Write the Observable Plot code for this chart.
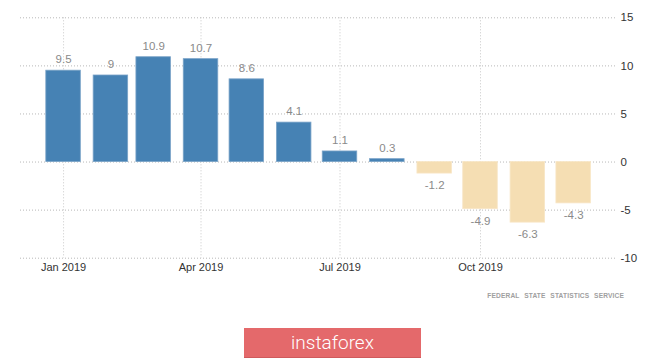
<!DOCTYPE html>
<html>
<head>
<meta charset="utf-8">
<script src="https://cdn.jsdelivr.net/npm/d3@7"></script>
<script src="https://cdn.jsdelivr.net/npm/@observablehq/plot@0.6"></script>
<style>
  html, body { margin: 0; padding: 0; background: #fff; }
  #wrap { position: relative; width: 665px; height: 359px; overflow: hidden; }
  #caption { position: absolute; right: 41px; top: 292px; font-family: 'Liberation Sans', Arial, sans-serif; font-weight: bold; font-size: 6.6px; letter-spacing: 0.15px; word-spacing: 2.8px; color: #a0a0a0; white-space: nowrap; }
  #logo { position: absolute; left: 244px; top: 328px; width: 177px; height: 30px; background: #e4696b; border-bottom: 1px solid #cf5a5c; box-sizing: border-box; color: #fff; font-family: Roboto, 'Open Sans', sans-serif; font-weight: 300; font-size: 19px; line-height: 29px; text-align: center; }
</style>
</head>
<body>
<div id="wrap">
  <div id="chart"></div>
  <div id="caption">FEDERAL STATE STATISTICS SERVICE</div>
  <div id="logo">instaforex</div>
</div>
<script>
const months = ["2019-01-01","2019-02-01","2019-03-01","2019-04-01","2019-05-01","2019-06-01","2019-07-01","2019-08-01","2019-09-01","2019-10-01","2019-11-01","2019-12-01"];
const values = [9.5, 9, 10.9, 10.7, 8.6, 4.1, 1.1, 0.3, -1.2, -4.9, -6.3, -4.3];
const labels = ["9.5","9","10.9","10.7","8.6","4.1","1.1","0.3","-1.2","-4.9","-6.3","-4.3"];
const yTicks = [15, 10, 5, 0, -5, -10];
const xTicks = ["2019-01-01","2019-04-01","2019-07-01","2019-10-01"];
const xDomain = ["2018-12-03T19:12Z", "2019-12-29T16:48Z"];

const data = months.map((m, i) => ({date: new Date(m), value: values[i], label: labels[i]}));
const halfBar = 11.3 * 24 * 3600 * 1000;

const font = "'Liberation Sans', Arial, sans-serif";

const chart = Plot.plot({
  width: 665,
  height: 280,
  marginTop: 17.3,
  marginBottom: 22.3,
  marginLeft: 20,
  marginRight: 48,
  style: {fontFamily: font, fontSize: "11px", background: "transparent"},
  x: {type: "utc", domain: xDomain.map(d => new Date(d))},
  y: {domain: [-10, 15]},
  marks: [
    Plot.gridY(yTicks, {stroke: "#b8b8b8", strokeOpacity: 1, strokeDasharray: "1,2"}),
    Plot.gridX(xTicks.map(d => new Date(d)), {stroke: "#c8c8c8", strokeOpacity: 1, strokeDasharray: "1,2"}),
    Plot.rectY(data, {
      x1: d => new Date(+d.date - halfBar),
      x2: d => new Date(+d.date + halfBar),
      y1: 0,
      y2: "value",
      fill: d => d.value >= 0 ? "#4682b4" : "#f5deb3",
      stroke: d => d.value >= 0 ? "#7aa3c8" : "#f8e6c6",
      strokeWidth: 0.8
    }),
    Plot.text(data.filter(d => d.value >= 0), {x: "date", y: "value", text: "label", dy: -11, fill: "#8a8a8a", fontSize: 11.5}),
    Plot.text(data.filter(d => d.value < 0), {x: "date", y: "value", text: "label", dy: 12, fill: "#8a8a8a", fontSize: 11.5}),
    Plot.axisY(yTicks, {anchor: "right", label: null, tickSize: 0, tickPadding: 3, tickFormat: d => String(d), color: "#333", fontSize: 11.5}),
    Plot.axisX(xTicks.map(d => new Date(d)), {anchor: "bottom", label: null, tickSize: 0, tickPadding: 5, tickFormat: d3.utcFormat("%b %Y"), color: "#333", fontSize: 11})
  ]
});
document.getElementById("chart").appendChild(chart);
</script>
</body>
</html>
